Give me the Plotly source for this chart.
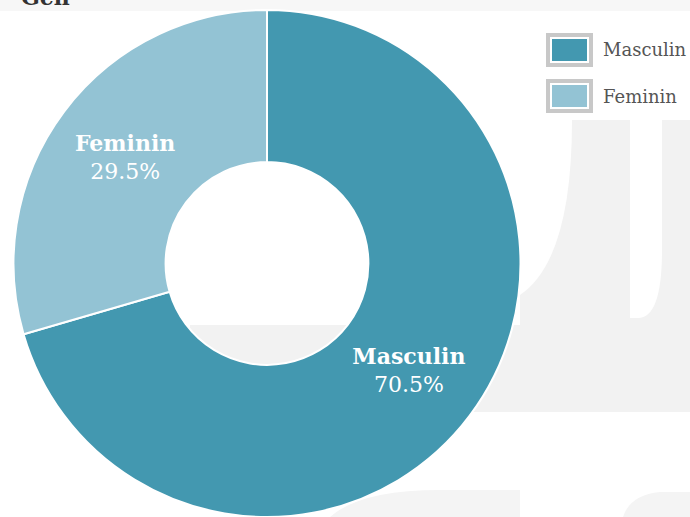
import plotly.graph_objects as go

# --------------------
# Data
# --------------------
labels = ["Masculin", "Feminin"]
values = [70.5, 29.5]
colors = ["#4398b0", "#93c3d4"]
title_text = "Gen"

W, H = 690, 517
FONT = "DejaVu Serif"


def px(x):
    return x / W


def py(y):
    return 1 - y / H


# --------------------
# Donut
# --------------------
fig = go.Figure()
fig.add_trace(go.Pie(
    labels=labels,
    values=values,
    hole=0.4,
    sort=False,
    direction="clockwise",
    rotation=0,
    marker=dict(colors=colors, line=dict(color="white", width=2)),
    texttemplate="<b>%{label}</b><br>%{percent:.1%}",
    textposition="inside",
    insidetextorientation="horizontal",
    textfont=dict(family=FONT, size=22, color="white"),
    domain=dict(x=[px(9), px(525)], y=[py(517), py(10)]),
    showlegend=False,
    hoverinfo="label+percent",
))

# --------------------
# Background watermark (faint)
# --------------------
shapes = [
    dict(type="rect", x0=px(0), x1=px(690), y0=py(0), y1=py(11),
         fillcolor="#f7f7f7", line=dict(width=0), layer="below"),
    dict(type="rect", x0=px(520), x1=px(690), y0=py(120), y1=py(412),
         fillcolor="#f2f2f2", line=dict(width=0), layer="below"),
    dict(type="rect", x0=px(190), x1=px(525), y0=py(325), y1=py(412),
         fillcolor="#f2f2f2", line=dict(width=0), layer="below"),
    # white curve cut-outs of the watermark
    dict(type="path",
         path=f"M {px(520)},{py(120)} L {px(572)},{py(120)} "
              f"Q {px(572)},{py(260)} {px(520)},{py(295)} Z",
         fillcolor="#ffffff", line=dict(width=0), layer="below"),
    dict(type="path",
         path=f"M {px(630)},{py(11)} L {px(662)},{py(11)} L {px(662)},{py(250)} "
              f"Q {px(662)},{py(318)} {px(638)},{py(318)} L {px(630)},{py(318)} Z",
         fillcolor="#ffffff", line=dict(width=0), layer="below"),
    dict(type="path",
         path=f"M {px(330)},{py(517)} Q {px(360)},{py(490)} {px(440)},{py(490)} "
              f"L {px(520)},{py(490)} L {px(520)},{py(517)} Z",
         fillcolor="#f4f4f4", line=dict(width=0), layer="below"),
    dict(type="path",
         path=f"M {px(623)},{py(517)} Q {px(630)},{py(495)} {px(660)},{py(492)} "
              f"L {px(690)},{py(492)} L {px(690)},{py(517)} Z",
         fillcolor="#f4f4f4", line=dict(width=0), layer="below"),
]

# --------------------
# Legend (boxed swatches)
# --------------------
annotations = []
for i, (lab, col) in enumerate(zip(labels, colors)):
    top = 33 + i * 46
    shapes.append(dict(type="rect", x0=px(548), x1=px(591), y0=py(top + 2), y1=py(top + 32),
                       fillcolor="white", line=dict(color="#c8c8c8", width=4)))
    shapes.append(dict(type="rect", x0=px(552), x1=px(587), y0=py(top + 6), y1=py(top + 28),
                       fillcolor=col, line=dict(width=0)))
    annotations.append(dict(text=lab, x=px(601), y=py(top + 17), xref="paper", yref="paper",
                            xanchor="left", yanchor="middle", showarrow=False,
                            font=dict(family=FONT, size=18, color="#555555")))

# title sits mostly above the visible area, as in the source
annotations.append(dict(text=f"<b>{title_text}</b>", x=px(19), y=py(12), xref="paper", yref="paper",
                        xanchor="left", yanchor="bottom", showarrow=False,
                        font=dict(family=FONT, size=22, color="#333333")))

fig.update_layout(
    width=W,
    height=H,
    margin=dict(l=0, r=0, t=0, b=0),
    paper_bgcolor="white",
    plot_bgcolor="white",
    shapes=shapes,
    annotations=annotations,
)

# page without the default body margin so the chart fills the window
fig.write_html("out.html", config={"displayModeBar": False},
               post_script="document.body.style.margin='0';")
